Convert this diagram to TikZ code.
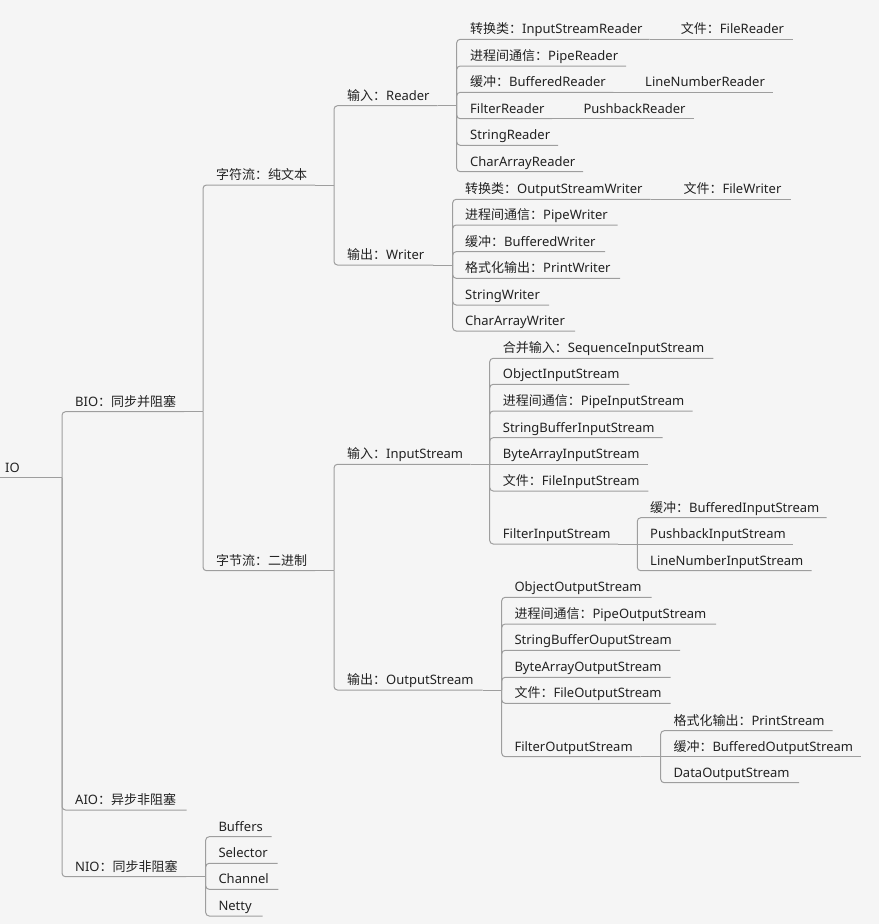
\documentclass[tikz,border=0pt]{standalone}
\usepackage{fontspec}
\setmainfont{Noto Sans}
\newfontfamily\zh{Noto Sans CJK SC}
\definecolor{bgc}{HTML}{F5F5F5}
\definecolor{lnc}{HTML}{9E9E9E}
\definecolor{txc}{HTML}{222222}
\tikzset{
  lbl/.style={anchor=base west,inner sep=0pt,text=txc,font=\fontsize{13}{15}\selectfont},
  ln/.style={draw=lnc,line width=1pt}
}
\newcommand\mnode[6]{%
  \node[lbl] (#1) at (#3,#4-5.5) {#6};
  \coordinate (#1-s) at (#2,#4);
  \coordinate (#1-e) at (#5,#4);
}
\newcommand\mlink[2]{\draw[ln,rounded corners=3.5pt] (#1-e -| #2-s) |- (#2-e);}
\newcommand\mstub[2]{\draw[ln] (#1-e) -- (#1-e -| #2-s);}
\newcommand\mline[2]{\draw[ln] (#1-e) -- (#2-e);}
\begin{document}
\begin{tikzpicture}[x=1pt,y=-1pt]
\fill[bgc] (0,0) rectangle (879,924);
\useasboundingbox (0,0) rectangle (879,924);
% root and level 1
\mnode{io}{0}{5}{477.7}{43}{IO}
\mnode{bio}{62}{75}{411.7}{184}{BIO{\zh ：同步并阻塞}}
\mnode{aio}{62}{75}{810}{186.7}{AIO{\zh ：异步非阻塞}}
\mnode{nio}{62}{75}{876.7}{186}{NIO{\zh ：同步非阻塞}}
% level 2
\mnode{zfl}{203}{216}{185}{315}{{\zh 字符流：纯文本}}
\mnode{zjl}{203}{216}{570.7}{315}{{\zh 字节流：二进制}}
% level 3
\mnode{rdr}{334}{347}{105.7}{437.5}{{\zh 输入：}Reader}
\mnode{wtr}{334}{347}{265}{433.3}{{\zh 输出：}Writer}
\mnode{ins}{334}{347}{464.3}{470.5}{{\zh 输入：}InputStream}
\mnode{outs}{334}{347}{690}{482.5}{{\zh 输出：}OutputStream}
% Reader
\mnode{r1}{456.7}{470}{39.3}{649.5}{{\zh 转换类：}InputStreamReader}
\mnode{r2}{456.7}{470}{66}{626}{{\zh 进程间通信：}PipeReader}
\mnode{r3}{456.7}{470}{92.3}{613.3}{{\zh 缓冲：}BufferedReader}
\mnode{r4}{456.7}{470}{118.7}{552}{FilterReader}
\mnode{r5}{456.7}{470}{145.3}{558}{StringReader}
\mnode{r6}{456.7}{470}{171.7}{583}{CharArrayReader}
\mnode{r1a}{668.5}{680.7}{39.3}{793.3}{{\zh 文件：}FileReader}
\mnode{r3a}{632.3}{645}{92.3}{773.3}{LineNumberReader}
\mnode{r4a}{570.7}{583.3}{118.7}{694.3}{PushbackReader}
% Writer
\mnode{w1}{452.7}{465}{199.3}{650.7}{{\zh 转换类：}OutputStreamWriter}
\mnode{w2}{452.7}{465}{225}{617.7}{{\zh 进程间通信：}PipeWriter}
\mnode{w3}{452.7}{465}{251.7}{605}{{\zh 缓冲：}BufferedWriter}
\mnode{w4}{452.7}{465}{278.3}{620}{{\zh 格式化输出：}PrintWriter}
\mnode{w5}{452.7}{465}{305}{549}{StringWriter}
\mnode{w6}{452.7}{465}{331}{575}{CharArrayWriter}
\mnode{w1a}{670}{683.3}{199.3}{791}{{\zh 文件：}FileWriter}
% InputStream
\mnode{i1}{489.7}{502.7}{358.3}{713.3}{{\zh 合并输入：}SequenceInputStream}
\mnode{i2}{489.7}{502.7}{384.3}{629.3}{ObjectInputStream}
\mnode{i3}{489.7}{502.7}{411}{692.7}{{\zh 进程间通信：}PipeInputStream}
\mnode{i4}{489.7}{502.7}{437.7}{662.7}{StringBufferInputStream}
\mnode{i5}{489.7}{502.7}{464.3}{648.3}{ByteArrayInputStream}
\mnode{i6}{489.7}{502.7}{491}{648.3}{{\zh 文件：}FileInputStream}
\mnode{i7}{489.7}{502.7}{544}{618}{FilterInputStream}
\mnode{i7a}{637.3}{650}{517.7}{826.7}{{\zh 缓冲：}BufferedInputStream}
\mnode{i7b}{637.3}{650}{544}{793.3}{PushbackInputStream}
\mnode{i7c}{637.3}{650}{570.7}{811.7}{LineNumberInputStream}
% OutputStream
\mnode{o1}{501.7}{514.3}{597.3}{651.7}{ObjectOutputStream}
\mnode{o2}{501.7}{514.3}{624}{716}{{\zh 进程间通信：}PipeOutputStream}
\mnode{o3}{501.7}{514.3}{650.3}{680}{StringBufferOuputStream}
\mnode{o4}{501.7}{514.3}{677.3}{670.7}{ByteArrayOutputStream}
\mnode{o5}{501.7}{514.3}{703.3}{670.7}{{\zh 文件：}FileOutputStream}
\mnode{o6}{501.7}{514.3}{756.7}{640.7}{FilterOutputStream}
\mnode{o6a}{660.7}{673.3}{730.7}{832.7}{{\zh 格式化输出：}PrintStream}
\mnode{o6b}{660.7}{673.3}{756.7}{860.7}{{\zh 缓冲：}BufferedOutputStream}
\mnode{o6c}{660.7}{673.3}{782.7}{799}{DataOutputStream}
% NIO
\mnode{n1}{205.7}{218.3}{836.7}{271.7}{Buffers}
\mnode{n2}{205.7}{218.3}{863.3}{277.7}{Selector}
\mnode{n3}{205.7}{218.3}{889.3}{278.3}{Channel}
\mnode{n4}{205.7}{218.3}{916}{262.7}{Netty}
% connectors
\draw[ln] (io-s) -- (io-e);
\mstub{io}{bio}
\mlink{io}{bio}\mlink{io}{aio}\mlink{io}{nio}
\mstub{bio}{zfl}
\mlink{bio}{zfl}\mlink{bio}{zjl}
\mstub{zfl}{rdr}
\mlink{zfl}{rdr}\mlink{zfl}{wtr}
\mstub{zjl}{ins}
\mlink{zjl}{ins}\mlink{zjl}{outs}
\mstub{rdr}{r1}
\mlink{rdr}{r1}\mlink{rdr}{r2}\mlink{rdr}{r3}\mlink{rdr}{r4}\mlink{rdr}{r5}\mlink{rdr}{r6}
\mline{r1}{r1a}\mline{r3}{r3a}\mline{r4}{r4a}
\mstub{wtr}{w1}
\mlink{wtr}{w1}\mlink{wtr}{w2}\mlink{wtr}{w3}\mlink{wtr}{w4}\mlink{wtr}{w5}\mlink{wtr}{w6}
\mline{w1}{w1a}
\mstub{ins}{i1}
\mlink{ins}{i1}\mlink{ins}{i2}\mlink{ins}{i3}\mlink{ins}{i4}\mline{ins}{i5}\mlink{ins}{i6}\mlink{ins}{i7}
\mstub{i7}{i7a}
\mlink{i7}{i7a}\mline{i7}{i7b}\mlink{i7}{i7c}
\mstub{outs}{o1}
\mlink{outs}{o1}\mlink{outs}{o2}\mlink{outs}{o3}\mlink{outs}{o4}\mlink{outs}{o5}\mlink{outs}{o6}
\mstub{o6}{o6a}
\mlink{o6}{o6a}\mline{o6}{o6b}\mlink{o6}{o6c}
\mstub{nio}{n1}
\mlink{nio}{n1}\mlink{nio}{n2}\mlink{nio}{n3}\mlink{nio}{n4}
\end{tikzpicture}
\end{document}
